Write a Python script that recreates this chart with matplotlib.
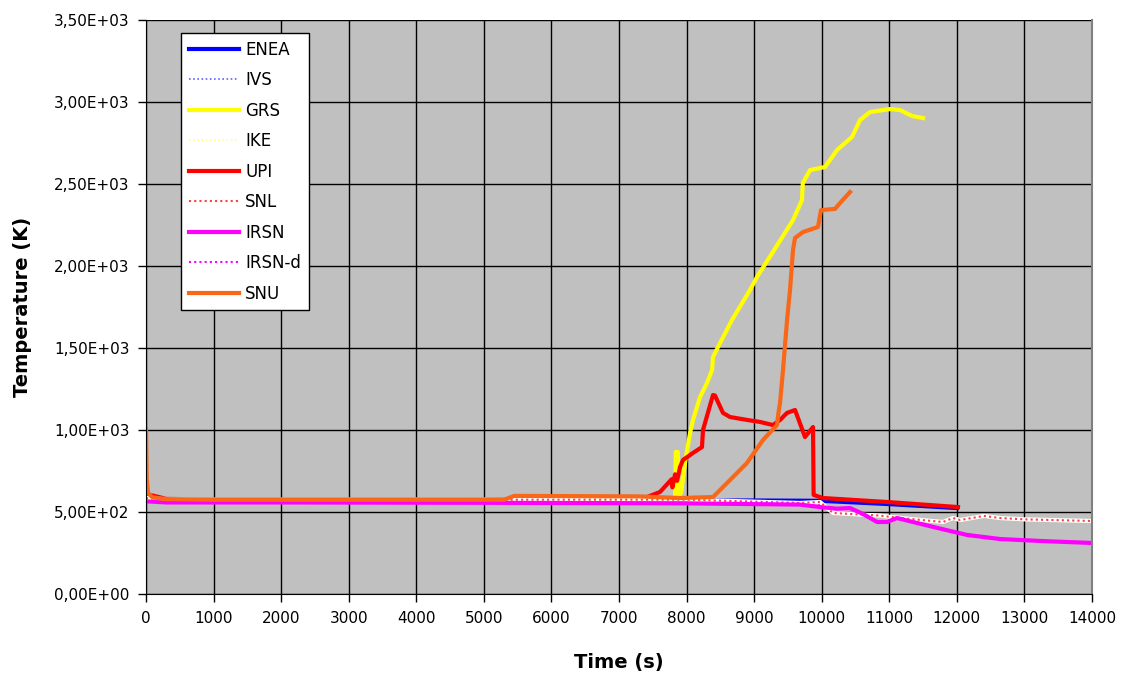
#!/usr/bin/env python3
"""Temperature vs time for several codes (benchmark comparison)."""

import matplotlib

matplotlib.use("Agg")
import matplotlib.pyplot as plt
from matplotlib.ticker import FuncFormatter, MultipleLocator

# data
enea_t = [0, 100, 300, 1000, 3000, 5000, 6400, 8000, 9000, 10000, 11000, 12000]
enea_T = [580, 575, 565, 565, 565, 562, 565, 570, 570, 568, 548, 524]

ivs_t = [0, 200, 2000, 5000, 8000, 10000]
ivs_T = [575, 565, 565, 565, 565, 561]

grs_t = [0, 200, 500, 3000, 6000, 7000, 7830, 7840, 7870, 7880, 7920, 7977, 8051,
         8095, 8199, 8303, 8377, 8391, 8465, 8672, 8939, 9042, 9300, 9575, 9708,
         9720, 9827, 10049, 10226, 10448, 10567, 10715, 11011, 11159, 11336, 11499]
grs_T = [580, 575, 570, 570, 575, 575, 580, 866, 866, 590, 620, 799, 982,
         1061, 1201, 1287, 1366, 1445, 1506, 1671, 1854, 1933, 2100, 2280, 2402,
         2506, 2585, 2604, 2707, 2787, 2890, 2939, 2957, 2951, 2915, 2902]

ike_t = [0, 300, 3000, 6000, 7000, 7850]
ike_T = [570, 565, 565, 560, 552, 550]

upi_t = [0, 100, 300, 1000, 5000, 7000, 7415, 7607, 7780, 7790, 7830, 7860, 7903,
         7947, 8095, 8228, 8243, 8391, 8420, 8539, 8643, 8900, 9087, 9279, 9383,
         9486, 9605, 9753, 9871, 9880, 10020, 11000, 12017]
upi_T = [605, 600, 580, 575, 575, 585, 591, 622, 700, 650, 730, 690, 774,
         817, 860, 896, 1000, 1213, 1210, 1104, 1079, 1061, 1049, 1030, 1061,
         1104, 1122, 957, 1018, 604, 585, 560, 530]

snl_t = [0, 200, 1000, 5000, 8000, 9679, 9975, 10167, 10670, 10863, 11010, 11500,
         11795, 11943, 12047, 12250, 12400, 12639, 13000, 14000]
snl_T = [585, 580, 575, 575, 575, 555, 561, 494, 482, 478, 470, 450,
         439, 463, 451, 465, 476, 463, 455, 445]

irsn_t = [0, 300, 2000, 5000, 7900, 9679, 9975, 10226, 10419, 10600, 10819, 10966,
          11114, 11647, 12150, 12639, 13300, 14000]
irsn_T = [565, 558, 558, 556, 553, 545, 530, 520, 524, 490, 439, 439,
          463, 409, 360, 335, 322, 311]

irsnd_t = [0, 300, 5000, 9000, 10000]
irsnd_T = [565, 560, 558, 550, 540]

snu_t = [0, 10, 30, 89, 252, 1000, 5300, 5450, 7300, 7903, 8391, 8643, 8894, 9131,
         9338, 9360, 9383, 9427, 9487, 9531, 9575, 9605, 9723, 9945, 9990, 10197,
         10271, 10419]
snu_T = [1006, 700, 616, 591, 579, 575, 575, 598, 595, 585, 591, 695, 799, 939,
         1030, 1104, 1165, 1366, 1671, 1854, 2098, 2171, 2207, 2238, 2341, 2348,
         2384, 2451]


def sci_comma(v, pos):
    return f"{v:.2E}".replace(".", ",")


def main():
    plt.rcParams["font.family"] = ["DejaVu Sans"]
    fig = plt.figure(figsize=(11.26, 6.81), dpi=100)
    ax = fig.add_axes([0.1297, 0.1278, 0.8401, 0.8428])
    ax.set_facecolor("#C0C0C0")

    dot = (0, (1, 1.5))
    ax.plot(enea_t, enea_T, color="#0000FF", lw=3, label="ENEA")
    ax.plot(ivs_t, ivs_T, color="#6060FF", lw=1.2, ls=dot, label="IVS")
    ax.plot(grs_t, grs_T, color="#FFFF00", lw=3, label="GRS")
    ax.plot(ike_t, ike_T, color="#FFFF80", lw=1.2, ls=dot, label="IKE")
    ax.plot(upi_t, upi_T, color="#FF0000", lw=3, label="UPI")
    ax.plot(snl_t, snl_T, color="white", lw=3)
    ax.plot(snl_t, snl_T, color="#FF4040", lw=1.5, ls=dot, label="SNL")
    ax.plot(irsn_t, irsn_T, color="#FF00FF", lw=3, label="IRSN")
    ax.plot(irsnd_t, irsnd_T, color="#FF00FF", lw=1.5, ls=dot, label="IRSN-d")
    ax.plot(snu_t, snu_T, color="#F86818", lw=3, label="SNU")

    ax.set_xlim(0, 14000)
    ax.set_ylim(0, 3500)
    ax.xaxis.set_major_locator(MultipleLocator(1000))
    ax.yaxis.set_major_locator(MultipleLocator(500))
    ax.yaxis.set_major_formatter(FuncFormatter(sci_comma))
    ax.tick_params(direction="out", length=6, width=1, labelsize=11, pad=6)
    ax.grid(True, color="black", lw=1)
    ax.set_axisbelow(True)

    ax.spines["top"].set_visible(False)
    ax.spines["right"].set_color("#808080")
    ax.spines["right"].set_linewidth(1.5)

    ax.set_xlabel("Time (s)", fontsize=14, fontweight="bold", labelpad=20)
    ax.set_ylabel("Temperature (K)", fontsize=14, fontweight="bold", labelpad=16)

    leg = ax.legend(loc="upper left", bbox_to_anchor=(0.037, 0.977), fontsize=12,
                    handlelength=3.0, handletextpad=0.4, labelspacing=0.75,
                    borderpad=0.45, borderaxespad=0, fancybox=False, framealpha=1,
                    edgecolor="black")
    leg.get_frame().set_linewidth(1)

    fig.savefig("out.png")
    plt.close(fig)


if __name__ == "__main__":
    main()
